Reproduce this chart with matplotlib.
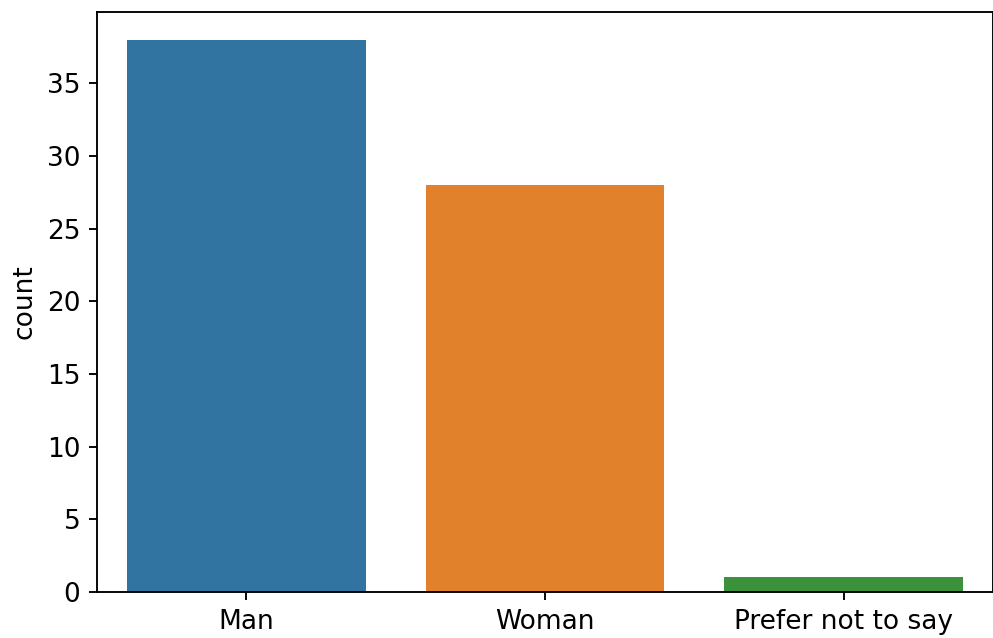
import matplotlib
matplotlib.use("Agg")
import matplotlib.pyplot as plt
import numpy as np

categories = ["Man", "Woman", "Prefer not to say"]
counts = [38, 28, 1]
colors = ["#3274a1", "#e1812c", "#3a923a"]

plt.rcParams["font.size"] = 11.2

dpi = 170
fig = plt.figure(figsize=(994 / dpi, 638 / dpi), dpi=dpi)
ax = fig.add_axes([97 / 994, 1 - 592 / 638, (993 - 97) / 994, (592 - 12) / 638])

x = np.arange(len(categories))
ax.bar(x, counts, width=0.8, color=colors)
ax.set_xticks(x)
ax.set_xticklabels(categories)
ax.set_xlim(-0.5, len(categories) - 0.5)
ax.set_ylim(0, 39.9)
ax.set_ylabel("count")

fig.savefig("out.png", dpi=dpi)
